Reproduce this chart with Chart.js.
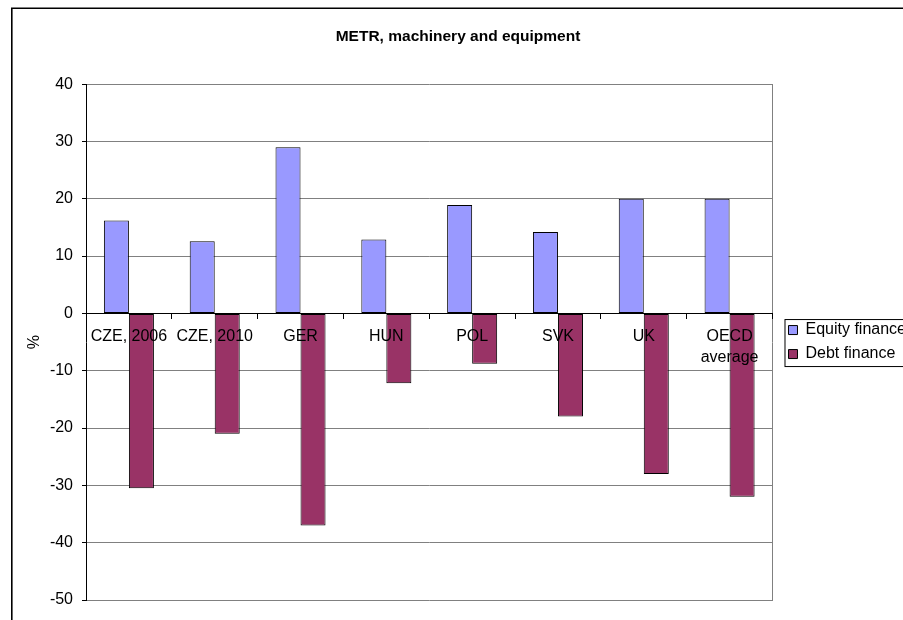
<!DOCTYPE html>
<html>
<head>
<meta charset="utf-8">
<script src="https://cdn.jsdelivr.net/npm/chart.js@4"></script>
<style>
  html, body { margin: 0; padding: 0; background: #fff; }
  #wrap { position: relative; width: 903px; height: 620px; overflow: hidden; }
  canvas { position: absolute; left: 0; top: 0; }
</style>
</head>
<body>
<div id="wrap"><canvas id="myChart" width="916" height="620"></canvas></div>
<script>
// values
const categories = ['CZE, 2006', 'CZE, 2010', 'GER', 'HUN', 'POL', 'SVK', 'UK', ['OECD', 'average']];
const equityFinance = [16.2, 12.6, 29.0, 12.9, 18.9, 14.2, 20.0, 20.0];
const debtFinance = [-30.5, -21.0, -37.0, -12.2, -8.8, -18.0, -28.0, -32.0];
const yTicks = { min: -50, max: 40, step: 10 };

const FONT = 'Arial, "Liberation Sans", sans-serif';

// black frame of the chart object (top and left edges are on screen)
const framePlugin = {
    id: 'frame',
    afterDraw(chart) {
        const ctx = chart.ctx;
        ctx.save();
        ctx.strokeStyle = '#000';
        ctx.lineWidth = 1.6;
        ctx.beginPath();
        ctx.moveTo(11.8, chart.height + 5);
        ctx.lineTo(11.8, 8.3);
        ctx.lineTo(chart.width + 5, 8.3);
        ctx.stroke();

        // box round the legend
        const lg = chart.legend;
        if (lg && lg.legendHitBoxes.length) {
            const hb = lg.legendHitBoxes;
            const top = hb[0].top - 3;
            const bottom = hb[hb.length - 1].top + hb[hb.length - 1].height + 4;
            ctx.lineWidth = 1;
            ctx.strokeRect(lg.left + 4.5, top + 0.5, chart.width, bottom - top);
        }
        ctx.restore();
    }
};

function initializeChart() {
    const ctx = document.getElementById('myChart').getContext('2d');
    return new Chart(ctx, {
        type: 'bar',
        data: {
            labels: categories,
            datasets: [{
                label: 'Equity finance',
                data: equityFinance,
                backgroundColor: '#9999ff',
                borderColor: '#000',
                borderWidth: 1,
                borderSkipped: false,
                categoryPercentage: 0.583,
                barPercentage: 1
            }, {
                label: 'Debt finance',
                data: debtFinance,
                backgroundColor: '#993366',
                borderColor: '#000',
                borderWidth: 1,
                borderSkipped: false,
                categoryPercentage: 0.583,
                barPercentage: 1
            }]
        },
        options: {
            responsive: false,
            animation: false,
            devicePixelRatio: 1,
            layout: { padding: { left: 0, right: 0, top: 16, bottom: 20 } },
            plugins: {
                title: {
                    display: true,
                    text: 'METR, machinery and equipment',
                    color: '#000',
                    font: { family: FONT, size: 15.5, weight: 'bold' },
                    padding: { top: 11, bottom: 38.5 }
                },
                legend: {
                    position: 'right',
                    fullSize: false,
                    labels: {
                        color: '#000',
                        font: { family: FONT, size: 16 },
                        boxWidth: 9,
                        boxHeight: 9,
                        padding: 8
                    }
                },
                tooltip: { enabled: false }
            },
            scales: {
                x: {
                    position: { y: 0 },
                    grid: {
                        offset: true,
                        drawOnChartArea: false,
                        drawTicks: true,
                        tickLength: 5,
                        tickColor: '#000',
                        z: 1
                    },
                    border: { color: '#000', width: 1, z: 1 },
                    ticks: {
                        color: '#000',
                        font: { family: FONT, size: 16, lineHeight: 1.3 },
                        padding: 8,
                        maxRotation: 0,
                        autoSkip: false,
                        z: 1
                    }
                },
                y: {
                    min: yTicks.min,
                    max: yTicks.max,
                    ticks: {
                        stepSize: yTicks.step,
                        color: '#000',
                        font: { family: FONT, size: 16 },
                        padding: 9
                    },
                    grid: {
                        color: '#808080',
                        tickColor: '#000',
                        tickLength: 4
                    },
                    border: { color: '#000', width: 1 },
                    title: {
                        display: true,
                        text: '%',
                        color: '#000',
                        font: { family: FONT, size: 16 },
                        padding: { top: 25, bottom: 0 }
                    },
                    afterFit(scale) { scale.width = 86; }
                },
                // empty right axis: keeps a gap before the legend and draws the plot edge
                edge: {
                    type: 'linear',
                    position: 'right',
                    min: 0,
                    max: 1,
                    grid: { display: false },
                    ticks: { display: false },
                    border: { color: '#808080', width: 1 },
                    afterFit(scale) { scale.width = 8; }
                }
            }
        },
        plugins: [framePlugin]
    });
}

const chart = initializeChart();
</script>
</body>
</html>
